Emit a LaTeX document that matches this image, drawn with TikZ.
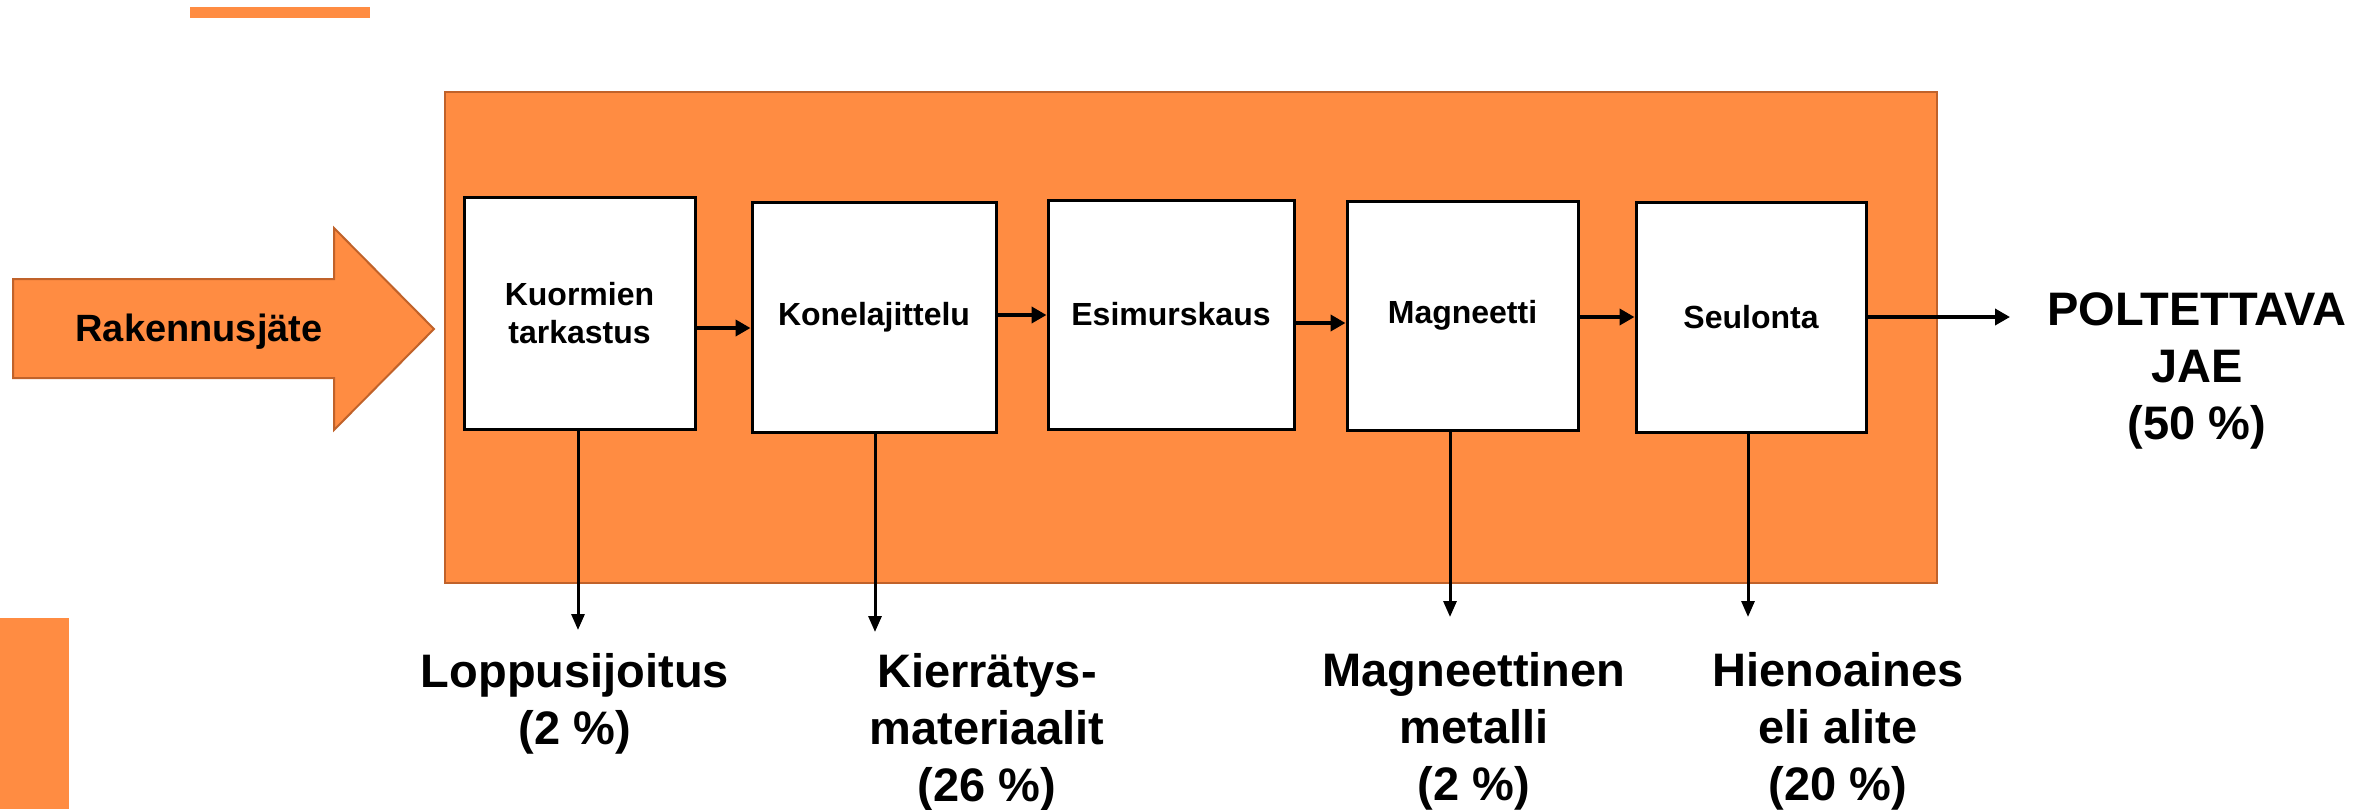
\documentclass[tikz,border=0pt]{standalone}
\usepackage{fontspec}
\setmainfont{Liberation Sans}
\usetikzlibrary{arrows.meta}
\definecolor{orangefill}{HTML}{FF8C42}
\definecolor{orangeedge}{HTML}{C0622A}
\begin{document}
\begin{tikzpicture}[x=1pt,y=-1pt,
  box/.style={draw=black,line width=3pt,fill=white,inner sep=0pt,
    font=\fontsize{32}{38}\selectfont\bfseries,align=center},
  flow/.style={line width=4pt,-{Triangle[length=15pt,width=16pt]}},
  drop/.style={line width=3pt,-{Triangle[length=16pt,width=13pt]}},
  outlabel/.style={font=\fontsize{47}{57}\selectfont\bfseries,align=center,
    anchor=north,inner sep=0pt},
  orangeshape/.style={fill=orangefill,draw=orangeedge,line width=2pt}]
\useasboundingbox (0,0) rectangle (2379,809);
% decorative bars
\fill[orangefill] (190,7) rectangle (370,18);
\fill[orangefill] (0,618) rectangle (69,809);
% input arrow
\draw[orangeshape] (13,279) -- (334,279) -- (334,228) -- (434,329) -- (334,430) -- (334,378) -- (13,378) -- cycle;
\node[font=\fontsize{38}{44}\selectfont\bfseries,anchor=base,inner sep=0pt] (src) at (199,341) {Rakennusjäte};
% process frame
\draw[orangeshape] (445,92) rectangle (1937,583);
% process boxes
\node[box,minimum width=231pt,minimum height=232pt] (k1) at (579.5,313) {Kuormien\\tarkastus};
\node[box,minimum width=244pt,minimum height=230pt] (k2) at (874,317) {Konelajittelu};
\node[box,minimum width=246pt,minimum height=229pt] (k3) at (1171,314.5) {Esimurskaus};
\node[box,minimum width=231pt,minimum height=229pt] (k4) at (1462.5,315.5) {Magneetti};
\node[box,minimum width=230pt,minimum height=230pt] (k5) at (1751,317) {Seulonta};
% output labels
\node[outlabel] (out) at (2197,292) {POLTETTAVA\\JAE\\(50 \%)};
\node[outlabel] (l1) at (575,653) {Loppusijoitus\\(2 \%)};
\node[outlabel] (l2) at (987,653) {Kierrätys-\\materiaalit\\(26 \%)};
\node[outlabel] (l4) at (1474,652) {Magneettinen\\metalli\\(2 \%)};
\node[outlabel] (l5) at (1838,652) {Hienoaines\\eli alite\\(20 \%)};
\coordinate (outend) at (2010,317);
% flow arrows
\draw[flow] (k1.east |- 0,328) -- (k2.west |- 0,328);
\draw[flow] (k2.east |- 0,315) -- (k3.west |- 0,315);
\draw[flow] (k3.east |- 0,323) -- (k4.west |- 0,323);
\draw[flow] (k4.east |- 0,317) -- (k5.west |- 0,317);
\draw[flow,line width=3.5pt] (k5.east |- 0,317) -- (outend);
% drop arrows
\draw[drop,shorten >=23pt] (k1.south -| 578,0) -- (l1.north -| 578,0);
\draw[drop,shorten >=21pt] (k2.south -| 875,0) -- (l2.north -| 875,0);
\draw[drop,shorten >=35pt] (k4.south -| 1450,0) -- (l4.north -| 1450,0);
\draw[drop,shorten >=35pt] (k5.south -| 1748,0) -- (l5.north -| 1748,0);
\end{tikzpicture}
\end{document}
